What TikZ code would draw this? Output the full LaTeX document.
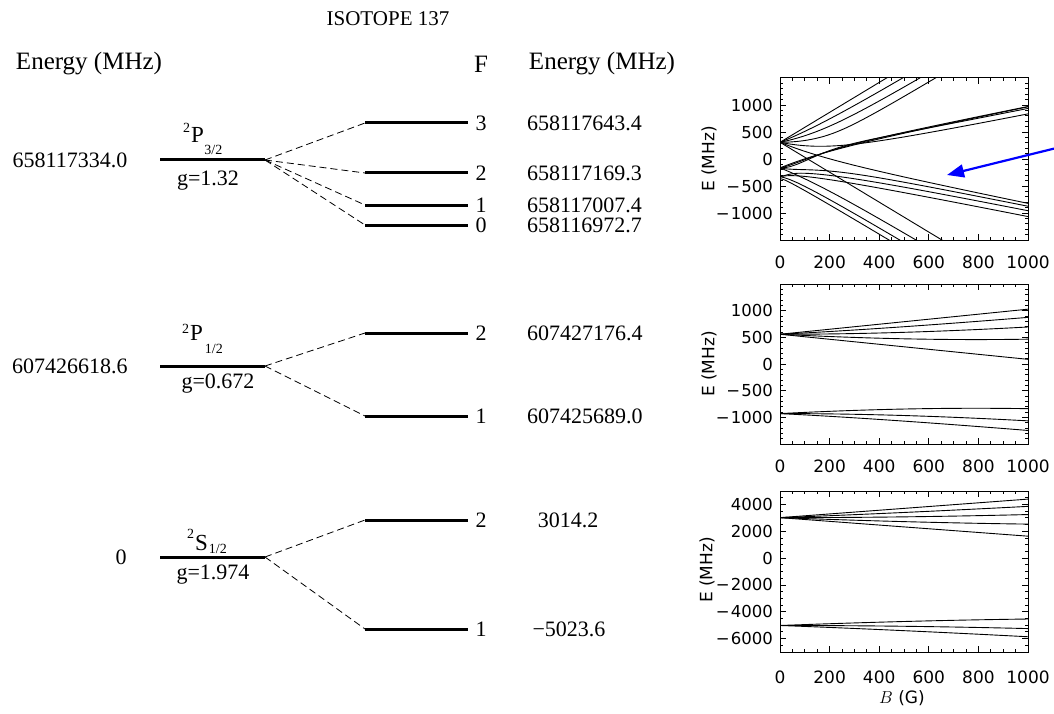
\documentclass[tikz,border=0pt]{standalone}
\usepackage{fontspec}
\setmainfont{Liberation Serif}
\newfontfamily\plotfont{DejaVu Sans}
\usetikzlibrary{arrows.meta}

\newcommand\zmdraw[1]{\draw[zmline] plot[smooth] coordinates {#1};}

\ExplSyntaxOn
\fp_new:N \l__zm_z_fp
\fp_new:N \l__zm_q_fp
\fp_new:N \l__zm_x_fp
\fp_new:N \l__zm_lo_fp
\fp_new:N \l__zm_hi_fp
\int_new:N \l__zm_cnt_int
\int_new:N \l__zm_am_int
\tl_new:N \l__zm_path_tl
\cs_new:Npn \__zm_ef:n #1
  { \int_case:nn {#1} { {0}{-361.3} {1}{-326.6} {2}{-164.7} {3}{309.4} } }
\cs_new:Npn \__zm_cc:n #1
  { \int_case:nn {#1} { {0}{0} {1}{1.25} {2}{0.2} {3}{0.05} } }
\cs_new_protected:Npn \__zm_count:n #1
  {
    \int_zero:N \l__zm_cnt_int
    \int_set:Nn \l__zm_am_int { \int_abs:n {#1} }
    \int_step_inline:nnn { \l__zm_am_int } { 3 }
      {
        \int_compare:nNnTF {##1} = { \l__zm_am_int }
          { \fp_set:Nn \l__zm_q_fp { \__zm_ef:n {##1} + \l__zm_z_fp * (#1) / 2 - \l__zm_x_fp } }
          { \fp_set:Nn \l__zm_q_fp
              { \__zm_ef:n {##1} + \l__zm_z_fp * (#1) / 2 - \l__zm_x_fp
                - \l__zm_z_fp * \l__zm_z_fp * ( ##1 * ##1 - (#1) * (#1) ) * \__zm_cc:n {##1} / \l__zm_q_fp } }
        \fp_compare:nNnT { \l__zm_q_fp } < { 0 } { \int_incr:N \l__zm_cnt_int }
        \fp_compare:nNnT { \l__zm_q_fp } = { 0 } { \fp_set:Nn \l__zm_q_fp { 1e-9 } }
      }
  }
\cs_new_protected:Npn \__zm_eig:nnn #1#2#3
  {
    \fp_set:Nn \l__zm_z_fp { 1847.5 * (#2) }
    \fp_set:Nn \l__zm_lo_fp { -4000 }
    \fp_set:Nn \l__zm_hi_fp { 4000 }
    \prg_replicate:nn { 17 }
      {
        \fp_set:Nn \l__zm_x_fp { ( \l__zm_lo_fp + \l__zm_hi_fp ) / 2 }
        \__zm_count:n {#1}
        \int_compare:nNnTF { \l__zm_cnt_int } < {#3}
          { \fp_set_eq:NN \l__zm_lo_fp \l__zm_x_fp }
          { \fp_set_eq:NN \l__zm_hi_fp \l__zm_x_fp }
      }
  }
\cs_new_protected:Npn \zmcurve #1#2
  {
    \tl_clear:N \l__zm_path_tl
    \clist_map_inline:nn { 0, 0.02, 0.04, 0.07, 0.1, 0.14, 0.18, 0.22, 0.26, 0.3, 0.35, 0.4, 0.45, 0.5, 0.55, 0.6, 0.65, 0.7, 0.75, 0.8, 0.85, 0.9, 0.95, 1 }
      {
        \__zm_eig:nnn {#1} {##1} {#2}
        \tl_put_right:Nx \l__zm_path_tl
          { ( \fp_eval:n { round( 780 + 248 * (##1), 2) } , \fp_eval:n { round( 159 - 0.054 * ( \l__zm_lo_fp + \l__zm_hi_fp ) / 2, 2) } ) ~ }
      }
    \exp_args:NV \zmdraw \l__zm_path_tl
  }
\ExplSyntaxOff

\newcommand\mn{−\kern1pt}

\begin{document}
\begin{tikzpicture}[x=1pt,y=-1pt,
  lvl/.style={line width=3pt},
  dsh/.style={line width=0.8pt, dash pattern=on 7pt off 4pt},
  hdr/.style={font=\fontsize{25}{30}\selectfont, inner sep=0pt},
  num/.style={font=\fontsize{22}{26}\selectfont, inner sep=0pt},
  ttl/.style={font=\fontsize{21}{25}\selectfont, inner sep=0pt},
  term/.style={font=\fontsize{23}{27}\selectfont, inner sep=0pt, anchor=base west},
  frm/.style={line width=1pt},
  tk/.style={line width=0.8pt},
  ylab/.style={font=\plotfont\fontsize{16.5}{20}\selectfont, anchor=east, inner sep=0pt},
  xlab/.style={font=\plotfont\fontsize{17}{20}\selectfont, inner sep=0pt},
  zmline/.style={line width=0.9pt},
  arr/.style={draw=blue, line width=2.2pt, -{Triangle[length=17pt,width=13pt]}},
]
\fill[white] (0,0) rectangle (1054,714);
\useasboundingbox (0,0) rectangle (1054,714);

% ---------- headers
\node[ttl] (title) at (388,19) {ISOTOPE 137};
\node[hdr] (hl) at (89,64) {Energy (MHz)};
\node[hdr] (hf) at (481,64) {F};
\node[hdr] (hr) at (602,64) {Energy (MHz)};

% ---------- P3/2 block
\node[num] (e32) at (70,160) {658117334.0};
\coordinate (p3a) at (160,160); \coordinate (p3b) at (265,160);
\draw[lvl] (p3a) -- (p3b);
\node[term] (t32) at (183,143) {\raisebox{10pt}{\fontsize{14}{14}\selectfont 2}\kern1pt P\kern0.5pt\raisebox{-12pt}{\fontsize{14}{14}\selectfont 3/2}};
\node[num] (g32) at (208,181) {g=1.32};
\foreach \n/\y/\v in {3/123/658117643.4, 2/173/658117169.3, 1/205/658117007.4, 0/225/658116972.7} {
  \coordinate (a3\n) at (365,\y); \coordinate (b3\n) at (468,\y);
  \draw[lvl] (a3\n) -- (b3\n);
  \draw[dsh] (p3b) -- (a3\n);
  \node[num] (fa\n) at (481,\y) {\n};
  \node[num, anchor=west] (va\n) at (527,\y) {\v};
}

% ---------- P1/2 block
\node[num] (e12) at (70,366) {607426618.6};
\coordinate (p1a) at (160,366); \coordinate (p1b) at (265,366);
\draw[lvl] (p1a) -- (p1b);
\node[term] (t12) at (182,340) {\raisebox{7pt}{\fontsize{14}{14}\selectfont 2}\kern1pt P\kern2pt\raisebox{-13pt}{\fontsize{14}{14}\selectfont 1/2}};
\node[num] (g12) at (218,384) {g=0.672};
\foreach \n/\y/\v in {2/333/607427176.4, 1/416/607425689.0} {
  \coordinate (a1\n) at (365,\y); \coordinate (b1\n) at (468,\y);
  \draw[lvl] (a1\n) -- (b1\n);
  \draw[dsh] (p1b) -- (a1\n);
  \node[num] (fb\n) at (481,\y) {\n};
  \node[num, anchor=west] (vb\n) at (527,\y) {\v};
}

% ---------- S1/2 block
\node[num] (e0) at (121,557) {0};
\coordinate (s1a) at (160,557); \coordinate (s1b) at (265,557);
\draw[lvl] (s1a) -- (s1b);
\node[term] (ts) at (187,550) {\raisebox{12pt}{\fontsize{14}{14}\selectfont 2}\kern1pt S\kern1pt\raisebox{-3pt}{\fontsize{14}{14}\selectfont 1/2}};
\node[num] (gs) at (213,575) {g=1.974};
\foreach \n/\y in {2/520, 1/629} {
  \coordinate (as\n) at (365,\y); \coordinate (bs\n) at (468,\y);
  \draw[lvl] (as\n) -- (bs\n);
  \draw[dsh] (s1b) -- (as\n);
  \node[num] (fs\n) at (481,\y) {\n};
}
\node[num] (vs2) at (568,520) {3014.2};
\node[num] (vs1) at (569,629) {−5023.6};

% ---------- plot 1 (P3/2)
\begin{scope}
\clip (780,78) rectangle (1028,240);
\zmcurve{3}{1}
\zmcurve{2}{1}\zmcurve{2}{2}
\zmcurve{1}{1}\zmcurve{1}{2}\zmcurve{1}{3}
\zmcurve{0}{1}\zmcurve{0}{2}\zmcurve{0}{3}\zmcurve{0}{4}
\zmcurve{-1}{1}\zmcurve{-1}{2}\zmcurve{-1}{3}
\zmcurve{-2}{1}\zmcurve{-2}{2}
\zmcurve{-3}{1}
\end{scope}
\draw[frm] (780,78) rectangle (1028,240);
\foreach \b in {0,50,...,1000} {
  \draw[tk] ({780+0.248*\b},240) -- ++(0,-3);
  \draw[tk] ({780+0.248*\b},78) -- ++(0,3);
  \draw[tk] ({780+0.248*\b},444) -- ++(0,-3);
  \draw[tk] ({780+0.248*\b},284) -- ++(0,3);
  \draw[tk] ({780+0.248*\b},652) -- ++(0,-3);
  \draw[tk] ({780+0.248*\b},491) -- ++(0,3);
}
\foreach \b in {0,200,...,1000} {
  \draw[tk] ({780+0.248*\b},240) -- ++(0,-6);
  \draw[tk] ({780+0.248*\b},78) -- ++(0,6);
  \draw[tk] ({780+0.248*\b},444) -- ++(0,-6);
  \draw[tk] ({780+0.248*\b},284) -- ++(0,6);
  \draw[tk] ({780+0.248*\b},652) -- ++(0,-6);
  \draw[tk] ({780+0.248*\b},491) -- ++(0,6);
}
\foreach \e in {-1400,-1300,...,1400} {
  \draw[tk] (780,{159-\e/18.519}) -- ++(3,0);
  \draw[tk] (1028,{159-\e/18.519}) -- ++(-3,0);
  \draw[tk] (780,{364-\e/18.75}) -- ++(3,0);
  \draw[tk] (1028,{364-\e/18.75}) -- ++(-3,0);
}
\foreach \e in {-1000,-500,...,1000} {
  \draw[tk] (780,{159-\e/18.519}) -- ++(6,0);
  \draw[tk] (1028,{159-\e/18.519}) -- ++(-6,0);
  \draw[tk] (780,{364-\e/18.75}) -- ++(6,0);
  \draw[tk] (1028,{364-\e/18.75}) -- ++(-6,0);
}
\foreach \e in {-6500,-6000,...,4500} {
  \draw[tk] (780,{558.08-\e/74.534}) -- ++(3,0);
  \draw[tk] (1028,{558.08-\e/74.534}) -- ++(-3,0);
}
\foreach \e in {-6000,-4000,...,4000} {
  \draw[tk] (780,{558.08-\e/74.534}) -- ++(6,0);
  \draw[tk] (1028,{558.08-\e/74.534}) -- ++(-6,0);
}
\foreach \e/\t [count=\i] in {1000/1000, 500/500, 0/0, -500/{\mn 500}, -1000/{\mn 1000}} {
  \node[ylab] (ya\i) at (773,{159-\e/18.519}) {\t};
  \node[ylab] (yb\i) at (773,{364-\e/18.75}) {\t};
}
\foreach \e/\t [count=\i] in {4000/4000, 2000/2000, 0/0, -2000/{\mn 2000}, -4000/{\mn 4000}, -6000/{\mn 6000}} {
  \node[ylab] (yc\i) at (773,{558.08-\e/74.534}) {\t};
}
\foreach \b [count=\i] in {0,200,...,1000} {
  \node[xlab] (xa\i) at ({780+0.248*\b},262) {\b};
  \node[xlab] (xb\i) at ({780+0.248*\b},466) {\b};
  \node[xlab] (xc\i) at ({780+0.248*\b},677) {\b};
}
\node[xlab, rotate=90] (ea) at (709,159) {E (MHz)};
\node[xlab, rotate=90] (eb) at (709,364) {E (MHz)};
\node[xlab, rotate=90] (ec) at (707,570) {E (MHz)};
\node[xlab] (bl) at (902,698) {$B$ (G)};

% ---------- plot 2 (P1/2)
\begin{scope}
\clip (780,284) rectangle (1028,444);
\foreach \m in {-2,...,2}
  \draw[zmline] plot[domain=0:1000, samples=41, smooth] ({780+0.248*\x}, {364-(-185.925+743.7*sqrt(1+(\m)*\x/1581.4+(\x/1581.4)^2))/18.75});
\foreach \m in {-1,0,1}
  \draw[zmline] plot[domain=0:1000, samples=41, smooth] ({780+0.248*\x}, {364-(-185.925-743.7*sqrt(1+(\m)*\x/1581.4+(\x/1581.4)^2))/18.75});
\end{scope}
\draw[frm] (780,284) rectangle (1028,444);

% ---------- plot 3 (S1/2)
\begin{scope}
\clip (780,491) rectangle (1028,652);
\foreach \m in {-2,...,2}
  \draw[zmline] plot[domain=0:1000, samples=41, smooth] ({780+0.248*\x}, {558.08-(-1004.725+4018.9*sqrt(1+(\m)*\x/2909.2+(\x/2909.2)^2))/74.534});
\foreach \m in {-1,0,1}
  \draw[zmline] plot[domain=0:1000, samples=41, smooth] ({780+0.248*\x}, {558.08-(-1004.725-4018.9*sqrt(1+(\m)*\x/2909.2+(\x/2909.2)^2))/74.534});
\end{scope}
\draw[frm] (780,491) rectangle (1028,652);

% ---------- blue arrow
\coordinate (arrS) at (1054,148.6);
\coordinate (arrT) at (947,175);
\draw[arr] (arrS) -- (arrT);
\end{tikzpicture}
\end{document}
